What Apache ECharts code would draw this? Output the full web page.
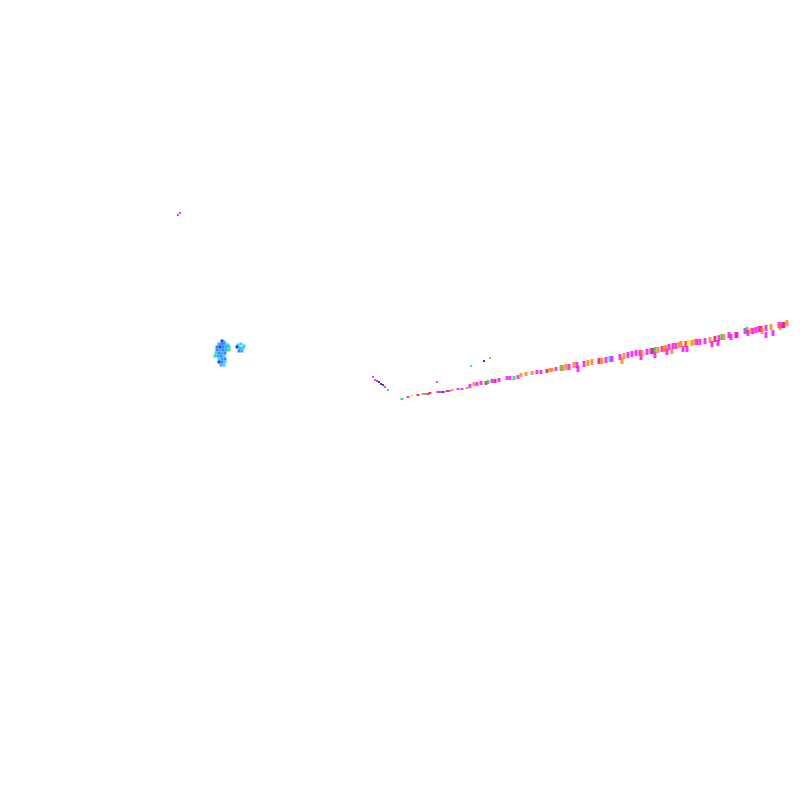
<!DOCTYPE html>
<html>
	<head>
		<meta charset="utf-8">
		<title>scatter</title>
		<script src="https://cdn.jsdelivr.net/npm/echarts@6/dist/echarts.min.js"></script>
		<style>
			html,body{margin:0;padding:0;background:#fff;}
			#main{width:800px;height:800px;}
		</style>
	</head>
	<body>
		<div id="main"></div>
		<script type="text/javascript">
			// [x, y, class]
			var clusterPts = [
				[222,341,'d'],[224,342,'a'],
				[219,344,'a'],[222,344,'b'],[225,344,'a'],[228,345,'c'],
				[217,347,'b'],[220,347,'d'],[223,347,'b'],[226,347,'a'],[229,347,'c'],
				[217,350,'b'],[220,350,'a'],[223,350,'b'],[226,350,'a'],[229,350,'g'],
				[216,353,'c'],[219,353,'b'],[222,353,'a'],[225,353,'b'],
				[215,356,'g'],[218,356,'a'],[221,356,'b'],[224,356,'c'],
				[219,359,'c'],[222,359,'a'],[225,359,'b'],
				[219,362,'d'],[222,362,'b'],[225,362,'c'],
				[221,365,'a'],[224,365,'c'],
				[238,345,'c'],[241,344,'c'],[244,346,'c'],[237,347,'d'],
				[240,348,'a'],[243,348,'c'],[239,351,'b'],[242,351,'a']
			];
			var strayPts = [
				[178,215,'m'],[180,213,'m'],[471,366,'c'],[484,361,'d'],[490,358,'o'],[437,382,'m'],
				[373,377,'m'],[375,380,'m'],[377,381,'r'],[379,382,'d'],[381,384,'d'],[383,385,'d'],[385,387,'m'],[388,390,'g']
			];
			var lineStartPts = [
				[402,399,'g'],[408,397,'m'],[412,396,'y'],[418,395,'r'],[423,394,'o'],[425,394,'g'],[428,394,'r'],[430,393,'r'],
				[438,392,'r'],[440,392,'m'],[443,392,'d'],[447,391,'r'],[449,391,'m'],[452,390,'o'],[458,389,'m'],[462,389,'m'],
				[467,388,'o']
			];
			var lineMidPts = [
				[470,386,'m'],[474,384,'o'],[477,384,'m'],[481,383,'m'],[486,383,'r'],[488,382,'g'],[492,381,'m'],
				[495,381,'r'],[499,380,'m'],[507,378,'m'],[510,378,'m'],[514,378,'g'],[518,377,'m'],[521,375,'o'],[526,374,'o'],
				[532,373,'o'],[537,372,'m'],[541,372,'m'],[547,371,'r'],[550,370,'o'],[552,370,'o'],[556,369,'m']
			];
			var lineEndPts = [
				[561,368,'g'],
				[563,368,'o'],[566,367,'o'],[569,367,'m'],[574,365,'o'],[577,365,'m'],[578,369,'m'],[584,364,'m'],[588,363,'o'],
				[592,362,'o'],[599,361,'r'],[602,361,'o'],[606,360,'m'],[610,359,'c'],[612,359,'m'],[620,357,'m'],[622,361,'o'],
				[624,356,'o'],[628,355,'m'],[632,354,'m'],[636,353,'m'],[640,353,'m'],[641,357,'m'],[642,353,'o'],[647,352,'m'],
				[651,351,'m'],[653,351,'r'],[655,355,'m'],[655,350,'g'],[658,350,'o'],[662,349,'m'],[664,349,'o'],[666,348,'o'],
				[667,352,'m'],[669,347,'m'],[672,351,'o'],[673,346,'m'],[676,346,'m'],[679,345,'o'],[681,344,'o'],[683,349,'m'],
				[686,344,'r'],[687,349,'m'],[688,343,'y'],[692,343,'o'],[695,342,'o'],[697,342,'m'],[700,342,'m'],[705,341,'m'],
				[710,340,'o'],[712,344,'m'],[715,339,'r'],[718,343,'m'],[719,338,'m'],[722,337,'g'],[724,337,'o'],[729,335,'m'],
				[731,337,'m'],[736,335,'r'],[737,335,'m'],[745,331,'m'],[747,330,'g'],[748,333,'m'],[751,331,'o'],[753,331,'m'],
				[756,330,'m'],[759,329,'m'],[761,329,'r'],[762,331,'o'],[766,328,'m'],[766,335,'m'],[771,327,'o'],[773,333,'m'],
				[779,325,'m'],[780,327,'o'],[782,325,'m'],[784,325,'r'],[787,323,'o']
			];
			var classes = ['d','b','a','c','g','y','o','r','m'];
			var classColors = ['#0000ff','#0066ff','#0099ff','#00ccff','#00dd44','#ffee00','#ff8000','#ff0040','#ff00ff'];

			var myChart = echarts.init(document.getElementById('main'));
			var option = {
				animation: false,
				grid: {left: 0, right: 0, top: 0, bottom: 0},
				xAxis: {type: 'value', min: 0, max: 800, show: false},
				yAxis: {type: 'value', min: 0, max: 800, inverse: true, show: false},
				visualMap: {
					type: 'piecewise',
					show: false,
					dimension: 2,
					categories: classes,
					inRange: {color: classColors}
				},
				series: [{
					type: 'scatter',
					symbol: 'rect',
					symbolSize: [3, 3],
					data: clusterPts
				},{
					type: 'scatter',
					symbol: 'rect',
					symbolSize: [2, 2],
					data: strayPts
				},{
					type: 'scatter',
					symbol: 'rect',
					symbolSize: [3, 2],
					data: lineStartPts
				},{
					type: 'scatter',
					symbol: 'rect',
					symbolSize: [3, 4],
					data: lineMidPts
				},{
					type: 'scatter',
					symbol: 'rect',
					symbolSize: [3, 6],
					data: lineEndPts
				}]
			};
			myChart.setOption(option);
		</script>
	</body>
</html>
